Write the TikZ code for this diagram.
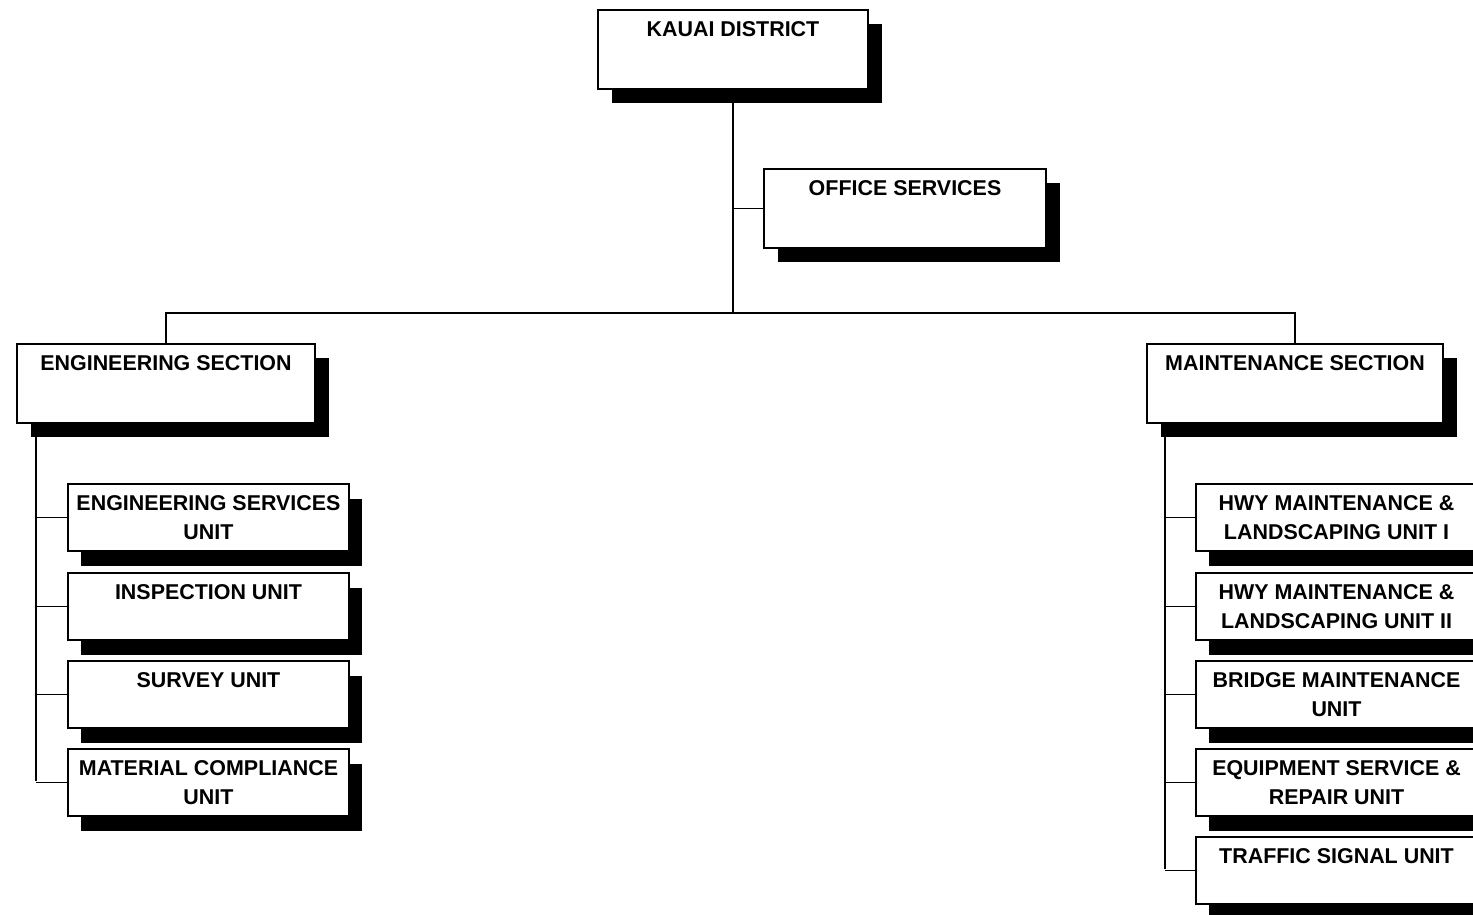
\documentclass[tikz,border=0pt]{standalone}
\usepackage{fontspec}
\setmainfont{Liberation Sans}
\usepackage{tikz}
\usetikzlibrary{shadows}

\begin{document}
\begin{tikzpicture}[
    x=0.02cm, y=-0.02cm,
    link_line/.style={draw=black, line width=1pt},
    % Tier 1 and 2 boxes (text at the top)
    big_node/.style={rectangle, draw=black, fill=white, line width=1pt, anchor=north, inner ysep=0pt, text height=0.53cm, text depth=1.05cm, align=center, font=\fontsize{12.2}{16.4}\selectfont\bfseries, drop shadow={shadow xshift=0.28cm, shadow yshift=-0.29cm, fill=black, opacity=1}},
    % Tier 3 boxes
    unit_node/.style={rectangle, draw=black, fill=white, line width=1pt, anchor=north, minimum width=5.62cm, minimum height=1.34cm, inner sep=0pt, align=center, font=\fontsize{12.2}{16.4}\selectfont\bfseries, drop shadow={shadow xshift=0.26cm, shadow yshift=-0.31cm, fill=black, opacity=1}}
]
    \useasboundingbox (0,0) rectangle (1473,914);
    \clip (0,0) rectangle (1473,914);

    % =========================================================================
    % DISTRICT AND OFFICE
    % =========================================================================
    \coordinate (bus) at (733,313);
    \draw [link_line] (733,88) -- (bus);
    \node [big_node, minimum width=5.4cm] (dist) at (733,9) {KAUAI DISTRICT};
    \node [big_node, minimum width=5.64cm] (off) at (905,168) {OFFICE SERVICES};
    \draw [link_line] (dist.south |- off.west) -- (off.west);

    % =========================================================================
    % SECTIONS
    % =========================================================================
    \coordinate (engbus) at (36,422);
    \coordinate (mntbus) at (1165,422);
    \draw [link_line] (engbus) -- (36,781);
    \draw [link_line] (mntbus) -- (1165,869);

    \node [big_node, minimum width=5.96cm] (eng) at (166,343) {ENGINEERING SECTION};
    \node [big_node, minimum width=5.92cm] (mnt) at (1295,343) {MAINTENANCE SECTION};
    \draw [link_line] (eng.north) |- (bus) -| (mnt.north);

    % =========================================================================
    % ENGINEERING UNITS
    % =========================================================================
    \node [unit_node] (esu) at (208.5,483) {ENGINEERING SERVICES\\UNIT};
    \node [unit_node] (ins) at (208.5,572) {INSPECTION UNIT\\~};
    \node [unit_node] (sur) at (208.5,660) {SURVEY UNIT\\~};
    \node [unit_node] (mat) at (208.5,748) {MATERIAL COMPLIANCE\\UNIT};

    \draw [link_line] (engbus |- esu.west) -- (esu.west);
    \draw [link_line] (engbus |- ins.west) -- (ins.west);
    \draw [link_line] (engbus |- sur.west) -- (sur.west);
    \draw [link_line] (engbus |- mat.west) -- (mat.west);

    % =========================================================================
    % MAINTENANCE UNITS
    % =========================================================================
    \node [unit_node] (hw1) at (1336.5,483) {HWY MAINTENANCE \&\\LANDSCAPING UNIT I};
    \node [unit_node] (hw2) at (1336.5,572) {HWY MAINTENANCE \&\\LANDSCAPING UNIT II};
    \node [unit_node] (brg) at (1336.5,660) {BRIDGE MAINTENANCE\\UNIT};
    \node [unit_node] (eqp) at (1336.5,748) {EQUIPMENT SERVICE \&\\REPAIR UNIT};
    \node [unit_node] (tsu) at (1336.5,836) {TRAFFIC SIGNAL UNIT\\~};

    \draw [link_line] (mntbus |- hw1.west) -- (hw1.west);
    \draw [link_line] (mntbus |- hw2.west) -- (hw2.west);
    \draw [link_line] (mntbus |- brg.west) -- (brg.west);
    \draw [link_line] (mntbus |- eqp.west) -- (eqp.west);
    \draw [link_line] (mntbus |- tsu.west) -- (tsu.west);
\end{tikzpicture}
\end{document}
